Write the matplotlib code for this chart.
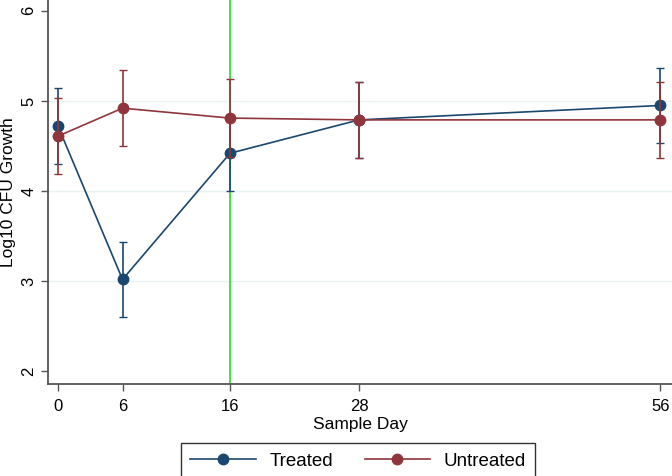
import numpy as np
import matplotlib.pyplot as plt
from matplotlib.lines import Line2D

plt.rcParams['font.family'] = ['Liberation Sans', 'DejaVu Sans']

days = [0, 6, 16, 28, 56]
treated = [4.72, 3.02, 4.42, 4.79, 4.95]
treated_err = [0.42, 0.42, 0.42, 0.42, 0.42]
untreated = [4.61, 4.92, 4.81, 4.79, 4.79]
untreated_err = [0.42, 0.42, 0.43, 0.42, 0.42]

navy = '#1a476f'
maroon = '#90353b'

fig = plt.figure(figsize=(6.72, 4.76), dpi=100)
ax = fig.add_axes([48/672, 1-384/476, 1-48/672, 384/476])

# grid lines
for g in [3, 4, 5]:
    ax.axhline(g, color='#eaf2f3', lw=1, zorder=0)

ax.axvline(16, color='#22dd22', lw=1.2, zorder=1)

ax.errorbar(days, treated, yerr=treated_err, color=navy, marker='o', ms=7.5,
            capsize=2.8, lw=1.2, elinewidth=1.2, zorder=3)
ax.errorbar(days, untreated, yerr=untreated_err, color=maroon, marker='o', ms=7.5,
            capsize=2.8, lw=1.2, elinewidth=1.2, zorder=4)

ax.set_xlim(-0.93, 57.1)
ax.set_ylim(1.86, 6.12)
ax.set_xticks(days)
ax.set_yticks([2, 3, 4, 5, 6])
for lab in ax.get_yticklabels():
    lab.set_rotation(90)
    lab.set_va('center')
ax.tick_params(labelsize=12, color='#555555', length=5, width=1)
ax.tick_params(axis='x', pad=6)
ax.set_xlabel('Sample Day', fontsize=12.5, labelpad=2)
ax.set_ylabel('Log10 CFU Growth', fontsize=12.5, labelpad=4)

ax.spines['top'].set_visible(False)
ax.spines['right'].set_visible(False)
ax.spines['left'].set_color('#555555')
ax.spines['bottom'].set_color('#555555')
ax.spines['left'].set_linewidth(1.3)
ax.spines['bottom'].set_linewidth(1.3)

handles = [Line2D([], [], color=navy, marker='o', ms=7.5, lw=1.2),
           Line2D([], [], color=maroon, marker='o', ms=7.5, lw=1.2)]
leg = fig.legend(handles, ['Treated', 'Untreated'], loc='center',
                 bbox_to_anchor=(358/672, 1-461/476), ncol=2,
                 fontsize=13.5, frameon=True, fancybox=False, edgecolor='black',
                 handlelength=3.5, handletextpad=0.7, columnspacing=1.7,
                 borderpad=0.5)
leg.get_frame().set_linewidth(1)

fig.savefig('out.png', dpi=100)
